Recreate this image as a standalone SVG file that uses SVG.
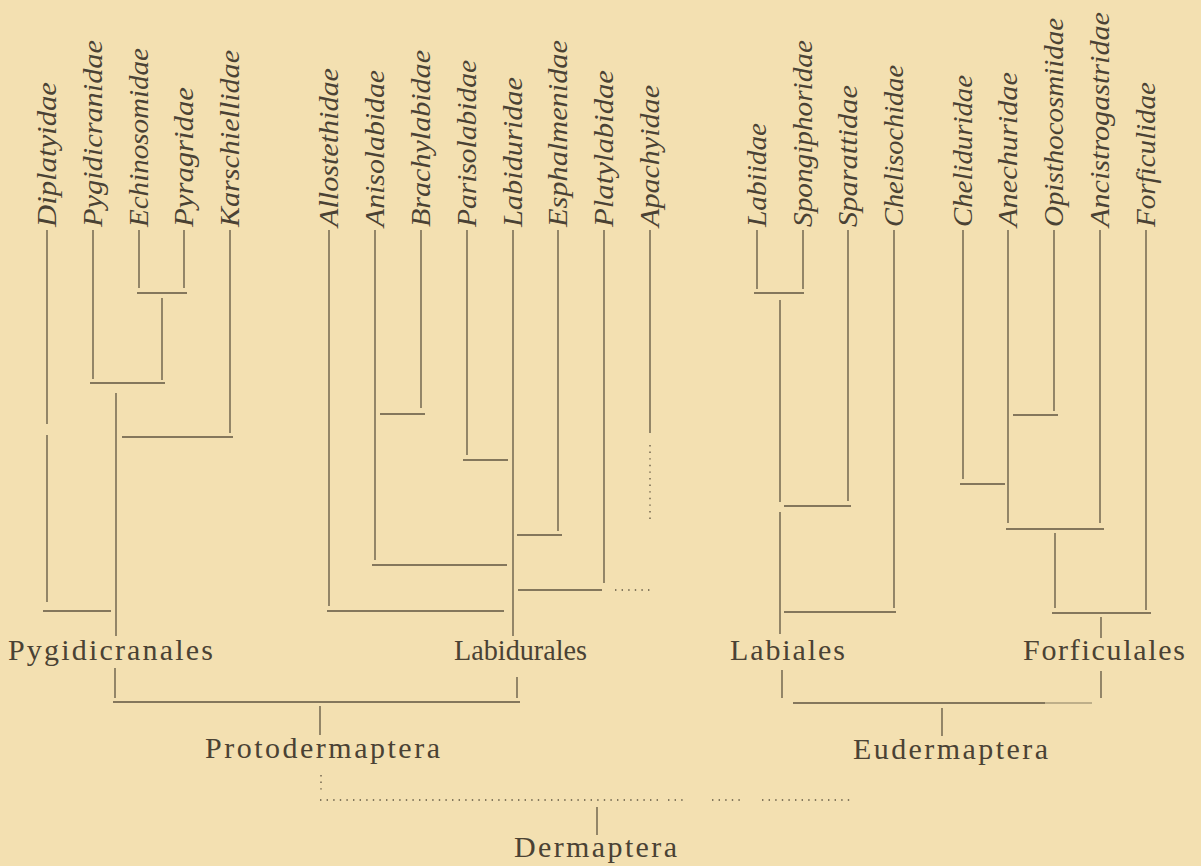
<svg xmlns="http://www.w3.org/2000/svg" width="1201" height="866" viewBox="0 0 1201 866">
<style>
.bg{fill:#f3e0b1}
.leaf{font-family:"Liberation Serif",serif;font-style:italic;font-size:28px;fill:#4a4234}
.grp{font-family:"Liberation Serif",serif;font-size:30px;fill:#4a4234}
.c line{stroke:#5f5541;stroke-width:1.3;fill:none}
.c .dot{stroke-dasharray:1.4 5.2}
.c .faint{stroke:#8a7e62;stroke-width:1.1}
</style>
<rect class="bg" x="0" y="0" width="1201" height="866"/>

<!-- leaf nodes -->
<g id="n-diplatyidae"><text class="leaf" transform="translate(56,227) rotate(-90)" textLength="145" lengthAdjust="spacingAndGlyphs">Diplatyidae</text></g>
<g id="n-pygidicranidae"><text class="leaf" transform="translate(102,227) rotate(-90)" textLength="187" lengthAdjust="spacingAndGlyphs">Pygidicranidae</text></g>
<g id="n-echinosomidae"><text class="leaf" transform="translate(148,227) rotate(-90)" textLength="179" lengthAdjust="spacingAndGlyphs">Echinosomidae</text></g>
<g id="n-pyragridae"><text class="leaf" transform="translate(193,227) rotate(-90)" textLength="140" lengthAdjust="spacingAndGlyphs">Pyragridae</text></g>
<g id="n-karschiellidae"><text class="leaf" transform="translate(239,227) rotate(-90)" textLength="177" lengthAdjust="spacingAndGlyphs">Karschiellidae</text></g>

<g id="n-allostethidae"><text class="leaf" transform="translate(338,227) rotate(-90)" textLength="159" lengthAdjust="spacingAndGlyphs">Allostethidae</text></g>
<g id="n-anisolabidae"><text class="leaf" transform="translate(384,227) rotate(-90)" textLength="157" lengthAdjust="spacingAndGlyphs">Anisolabidae</text></g>
<g id="n-brachylabidae"><text class="leaf" transform="translate(430,227) rotate(-90)" textLength="177" lengthAdjust="spacingAndGlyphs">Brachylabidae</text></g>
<g id="n-parisolabidae"><text class="leaf" transform="translate(476,227) rotate(-90)" textLength="167" lengthAdjust="spacingAndGlyphs">Parisolabidae</text></g>
<g id="n-labiduridae"><text class="leaf" transform="translate(522,227) rotate(-90)" textLength="150" lengthAdjust="spacingAndGlyphs">Labiduridae</text></g>
<g id="n-esphalmenidae"><text class="leaf" transform="translate(567,227) rotate(-90)" textLength="187" lengthAdjust="spacingAndGlyphs">Esphalmenidae</text></g>
<g id="n-platylabidae"><text class="leaf" transform="translate(613,227) rotate(-90)" textLength="157" lengthAdjust="spacingAndGlyphs">Platylabidae</text></g>
<g id="n-apachyidae"><text class="leaf" transform="translate(659,227) rotate(-90)" textLength="142" lengthAdjust="spacingAndGlyphs">Apachyidae</text></g>

<g id="n-labiidae"><text class="leaf" transform="translate(766,227) rotate(-90)" textLength="104" lengthAdjust="spacingAndGlyphs">Labiidae</text></g>
<g id="n-spongiphoridae"><text class="leaf" transform="translate(812,227) rotate(-90)" textLength="187" lengthAdjust="spacingAndGlyphs">Spongiphoridae</text></g>
<g id="n-sparattidae"><text class="leaf" transform="translate(857,227) rotate(-90)" textLength="142" lengthAdjust="spacingAndGlyphs">Sparattidae</text></g>
<g id="n-chelisochidae"><text class="leaf" transform="translate(903,227) rotate(-90)" textLength="162" lengthAdjust="spacingAndGlyphs">Chelisochidae</text></g>
<g id="n-cheliduridae"><text class="leaf" transform="translate(972,227) rotate(-90)" textLength="152" lengthAdjust="spacingAndGlyphs">Cheliduridae</text></g>
<g id="n-anechuridae"><text class="leaf" transform="translate(1017,227) rotate(-90)" textLength="155" lengthAdjust="spacingAndGlyphs">Anechuridae</text></g>
<g id="n-opisthocosmiidae"><text class="leaf" transform="translate(1063,227) rotate(-90)" textLength="209" lengthAdjust="spacingAndGlyphs">Opisthocosmiidae</text></g>
<g id="n-ancistrogastridae"><text class="leaf" transform="translate(1109,227) rotate(-90)" textLength="215" lengthAdjust="spacingAndGlyphs">Ancistrogastridae</text></g>
<g id="n-forficulidae"><text class="leaf" transform="translate(1155,227) rotate(-90)" textLength="145" lengthAdjust="spacingAndGlyphs">Forficulidae</text></g>

<!-- group nodes -->
<g id="n-pygidicranales"><text class="grp" x="8" y="660" textLength="205">Pygidicranales</text></g>
<g id="n-labidurales"><text class="grp" x="454" y="660" textLength="133" lengthAdjust="spacingAndGlyphs">Labidurales</text></g>
<g id="n-labiales"><text class="grp" x="730" y="660" textLength="115">Labiales</text></g>
<g id="n-forficulales"><text class="grp" x="1023" y="660" textLength="162">Forficulales</text></g>
<g id="n-protodermaptera"><text class="grp" x="205" y="758" textLength="235">Protodermaptera</text></g>
<g id="n-eudermaptera"><text class="grp" x="853" y="759" textLength="195">Eudermaptera</text></g>
<g id="n-dermaptera"><text class="grp" x="514" y="857" textLength="163">Dermaptera</text></g>

<!-- connectors -->
<g id="connectors" class="c">
  <!-- Pygidicranales -->
  <line x1="47" y1="230" x2="47" y2="424"/>
  <line x1="47" y1="435" x2="47" y2="602"/>
  <line x1="43" y1="611" x2="111" y2="611"/>
  <line x1="93" y1="230" x2="93" y2="379"/>
  <line x1="139" y1="230" x2="139" y2="288"/>
  <line x1="184" y1="230" x2="184" y2="288"/>
  <line x1="137" y1="293" x2="187" y2="293"/>
  <line x1="162" y1="298" x2="162" y2="380"/>
  <line x1="90" y1="383" x2="165" y2="383"/>
  <line x1="116" y1="393" x2="116" y2="636"/>
  <line x1="230" y1="230" x2="230" y2="433"/>
  <line x1="122" y1="437" x2="233" y2="437"/>
  <!-- Labidurales -->
  <line x1="329" y1="230" x2="329" y2="606"/>
  <line x1="327" y1="611" x2="504" y2="611"/>
  <line x1="375" y1="230" x2="375" y2="560"/>
  <line x1="372" y1="565" x2="507" y2="565"/>
  <line x1="421" y1="230" x2="421" y2="408"/>
  <line x1="380" y1="414" x2="425" y2="414"/>
  <line x1="467" y1="230" x2="467" y2="455"/>
  <line x1="463" y1="460" x2="508" y2="460"/>
  <line x1="513" y1="230" x2="513" y2="636"/>
  <line x1="558" y1="230" x2="558" y2="531"/>
  <line x1="517" y1="535" x2="562" y2="535"/>
  <line x1="604" y1="230" x2="604" y2="583"/>
  <line x1="518" y1="590" x2="602" y2="590"/>
  <line class="dot" x1="615" y1="590" x2="652" y2="590"/>
  <line x1="650" y1="230" x2="650" y2="433"/>
  <line class="dot" x1="650" y1="445" x2="650" y2="524"/>
  <!-- Labiales -->
  <line x1="757" y1="230" x2="757" y2="289"/>
  <line x1="803" y1="230" x2="803" y2="289"/>
  <line x1="754" y1="293" x2="804" y2="293"/>
  <line x1="780" y1="300" x2="780" y2="502"/>
  <line x1="780" y1="512" x2="780" y2="634"/>
  <line x1="848" y1="230" x2="848" y2="501"/>
  <line x1="784" y1="506" x2="851" y2="506"/>
  <line x1="894" y1="230" x2="894" y2="608"/>
  <line x1="784" y1="612" x2="896" y2="612"/>
  <!-- Forficulales -->
  <line x1="963" y1="230" x2="963" y2="479"/>
  <line x1="960" y1="484" x2="1005" y2="484"/>
  <line x1="1008" y1="230" x2="1008" y2="523"/>
  <line x1="1054" y1="230" x2="1054" y2="411"/>
  <line x1="1013" y1="415" x2="1058" y2="415"/>
  <line x1="1100" y1="230" x2="1100" y2="523"/>
  <line x1="1006" y1="529" x2="1104" y2="529"/>
  <line x1="1055" y1="533" x2="1055" y2="608"/>
  <line x1="1146" y1="230" x2="1146" y2="610"/>
  <line x1="1052" y1="613" x2="1151" y2="613"/>
  <line x1="1101" y1="617" x2="1101" y2="638"/>
  <!-- order-level -->
  <line x1="115" y1="668" x2="115" y2="698"/>
  <line x1="517" y1="677" x2="517" y2="698"/>
  <line x1="113" y1="702" x2="520" y2="702"/>
  <line x1="320" y1="706" x2="320" y2="735"/>
  <line x1="782" y1="670" x2="782" y2="698"/>
  <line x1="1101" y1="671" x2="1101" y2="698"/>
  <line x1="793" y1="703" x2="1045" y2="703"/>
  <line class="faint" x1="1045" y1="703" x2="1092" y2="703"/>
  <line x1="942" y1="708" x2="942" y2="736"/>
  <!-- Dermaptera -->
  <line class="dot" x1="321" y1="775" x2="321" y2="790"/>
  <line class="dot" x1="320" y1="800" x2="660" y2="800"/>
  <line class="dot" x1="668" y1="800" x2="686" y2="800"/>
  <line class="dot" x1="712" y1="800" x2="742" y2="800"/>
  <line class="dot" x1="762" y1="800" x2="854" y2="800"/>
  <line x1="597" y1="807" x2="597" y2="835"/>
</g>
</svg>
